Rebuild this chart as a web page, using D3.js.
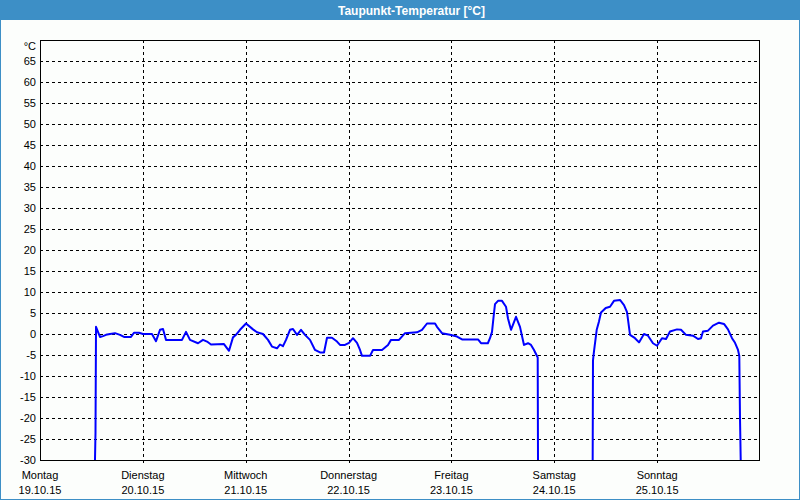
<!DOCTYPE html>
<html><head><meta charset="utf-8">
<script src="https://cdn.jsdelivr.net/npm/d3@7"></script>
<style>
html,body{margin:0;padding:0;background:#fcfefc;}
svg{display:block;font-family:"Liberation Sans",Arial,sans-serif;}
</style></head>
<body>
<svg id="c" width="800" height="500"></svg>
<script>
// Data: hours since Montag 19.10.15 00:00, dew point in °C (null = no data)
const hours = [12.83,12.95,13.07,13.53,14.0,14.7,15.4,16.33,17.5,18.67,19.6,21.23,21.93,23.1,24.03,26.13,27.07,28.0,28.7,29.4,33.13,34.07,35.0,36.87,38.03,38.97,39.9,42.93,44.1,45.03,45.73,46.67,48.07,49.7,50.63,52.03,53.2,54.13,55.3,56.0,56.7,57.4,58.33,59.03,59.97,60.9,61.83,63.0,64.17,65.33,66.27,66.97,68.13,69.3,70.0,71.17,72.1,73.03,73.97,74.67,75.13,77.0,77.7,79.8,81.2,81.9,83.77,85.17,87.97,89.13,90.3,92.17,92.63,93.8,95.67,97.3,98.47,102.2,102.9,104.5,105.0,105.47,105.93,106.17,106.87,107.8,108.73,109.2,109.9,111.07,112.0,112.93,113.87,114.57,115.27,116.13,116.2,122.0,128.96,129.03,129.27,129.9,130.43,130.9,132.0,133.0,133.93,135.33,136.27,136.97,137.67,138.83,139.77,140.93,141.87,143.03,143.97,145.13,146.07,147.0,148.63,149.57,150.73,152.37,153.53,154.23,154.7,155.87,157.03,158.43,159.6,160.53,161.47,162.17,162.87,163.17,163.33,163.5];
const values = [-30,-23.5,1.7,0.5,-0.7,-0.5,-0.2,0,0.2,-0.2,-0.7,-0.7,0.3,0.3,0,0,-1.7,1,1.2,-1.4,-1.4,0.5,-1.4,-2.2,-1.4,-1.8,-2.5,-2.4,-4,-0.8,-0.2,1,2.5,1.1,0.4,0,-1.4,-3,-3.4,-2.5,-2.9,-1.4,1,1.2,-0.2,1,-0.2,-1.4,-3.8,-4.4,-4.4,-0.9,-0.9,-1.8,-2.6,-2.6,-2.1,-1.0,-2.1,-3.8,-5.2,-5.2,-3.8,-3.8,-2.6,-1.4,-1.4,0.2,0.4,1,2.5,2.5,1.7,0.2,-0.2,-0.6,-1.3,-1.3,-2.2,-2.2,-1.0,0.5,5,7.1,7.9,7.9,6.5,3.7,1,4.1,1.7,-2.6,-2.2,-2.6,-3.8,-5.6,-30,null,-30,-6.3,-4.1,1,3,5.1,6.2,6.5,7.9,8.1,6.9,5.2,-0.2,-1,-2,0,-0.4,-2.2,-2.8,-1,-1.2,0.6,1.1,1,-0.2,-0.4,-1.2,-1,0.6,0.8,2,2.7,2.4,1.1,-1,-2.1,-3.8,-5.2,-19.8,-30];
const dayNames = ["Montag","Dienstag","Mittwoch","Donnerstag","Freitag","Samstag","Sonntag"];
const dayDates = ["19.10.15","20.10.15","21.10.15","22.10.15","23.10.15","24.10.15","25.10.15"];
const dayHours = [0,24,48,72,96,120,144];
const yTicks = [-30,-25,-20,-15,-10,-5,0,5,10,15,20,25,30,35,40,45,50,55,60,65];
const title = "Taupunkt-Temperatur [°C]";
const unit = "°C";

const svg = d3.select("#c");
const W = 800, H = 500;
const L = 40, R = 760, T = 40, B = 460;
const blue = "#3d8fc6";

svg.append("rect").attr("x",0).attr("y",0).attr("width",W).attr("height",H).attr("fill","#fcfefc");
// frame
svg.append("rect").attr("x",0.5).attr("y",0.5).attr("width",W-1).attr("height",H-1)
  .attr("fill","none").attr("stroke",blue).attr("stroke-width",1);
svg.append("rect").attr("x",0).attr("y",0).attr("width",W).attr("height",20).attr("fill",blue);
svg.append("text").attr("x",338).attr("y",14.5).attr("fill","#fff")
  .attr("font-size",12).attr("font-weight","bold").text(title);

const x = d3.scaleLinear().domain([0,168]).range([L,R]);
const y = d3.scaleLinear().domain([-30,70]).range([B,T]);

const g = svg.append("g");
// horizontal grid
g.selectAll("line.h").data(yTicks.filter(v=>v>-30)).enter().append("line")
  .attr("x1",L).attr("x2",R).attr("y1",d=>Math.round(y(d))+0.5).attr("y2",d=>Math.round(y(d))+0.5)
  .attr("stroke","#000").attr("stroke-dasharray","3,3").attr("shape-rendering","crispEdges");
// vertical grid
g.selectAll("line.v").data(dayHours.filter(h=>h>0)).enter().append("line")
  .attr("x1",d=>Math.round(x(d))+0.5).attr("x2",d=>Math.round(x(d))+0.5).attr("y1",T).attr("y2",B+4)
  .attr("stroke","#000").attr("stroke-dasharray","3,3").attr("shape-rendering","crispEdges");

// y labels
g.selectAll("text.y").data(yTicks).enter().append("text")
  .attr("x",36).attr("y",d=>y(d)+4).attr("text-anchor","end").attr("font-size",11).attr("fill","#000")
  .text(d=>d);
g.append("text").attr("x",36).attr("y",50).attr("text-anchor","end").attr("font-size",11).text(unit);

// x labels
g.selectAll("text.d").data(dayHours).enter().append("text")
  .attr("x",d=>x(d)).attr("y",479).attr("text-anchor","middle").attr("font-size",11)
  .text((d,i)=>dayNames[i]);
g.selectAll("text.e").data(dayHours).enter().append("text")
  .attr("x",d=>x(d)).attr("y",494).attr("text-anchor","middle").attr("font-size",11)
  .text((d,i)=>dayDates[i]);

// clip + line
svg.append("clipPath").attr("id","clip").append("rect").attr("x",L).attr("y",T).attr("width",R-L).attr("height",B-T);
const pts = hours.map((h,i)=>({h,v:values[i]}));
const line = d3.line().defined(d=>d.v!==null).x(d=>x(d.h)).y(d=>y(d.v));
svg.append("path").datum(pts).attr("clip-path","url(#clip)").attr("d",line)
  .attr("fill","none").attr("stroke","#0000ff").attr("stroke-width",2).attr("stroke-linejoin","round");

// plot border
svg.append("rect").attr("x",L+0.5).attr("y",T+0.5).attr("width",R-L-1).attr("height",B-T)
  .attr("fill","none").attr("stroke","#000").attr("stroke-width",1).attr("shape-rendering","crispEdges");
</script>
</body></html>
